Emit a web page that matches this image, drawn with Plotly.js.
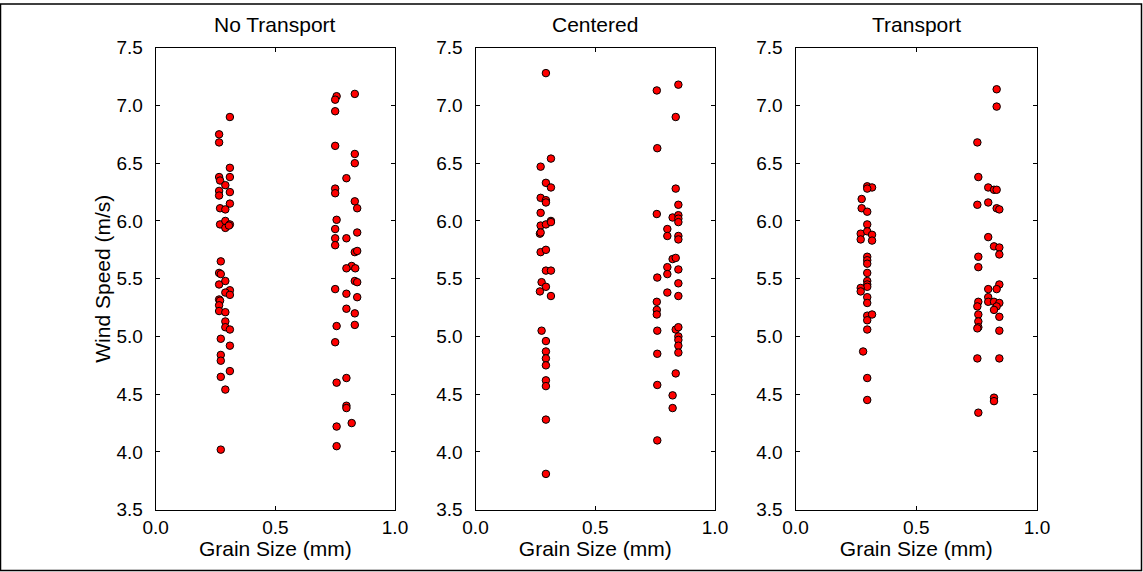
<!DOCTYPE html>
<html>
<head>
<meta charset="utf-8">
<script src="https://cdn.plot.ly/plotly-3.0.1.min.js"></script>
<style>
  html, body { margin: 0; padding: 0; background: #fff; }
  #chart { width: 1143px; height: 572px; }
</style>
</head>
<body>
<div id="chart"></div>
<script>
// ---- Data ----
const panelTitles = ["No Transport", "Centered", "Transport"];

const noTransportGrain = [
  0.310, 0.265, 0.265, 0.310, 0.265, 0.310, 0.269, 0.291, 0.265, 0.310, 0.265, 0.310, 0.269, 0.291,
  0.269, 0.291, 0.310, 0.291, 0.306, 0.272, 0.265, 0.272, 0.265, 0.291, 0.310, 0.291, 0.310, 0.265,
  0.269, 0.265, 0.265, 0.291, 0.291, 0.291, 0.310, 0.272, 0.310, 0.272, 0.272, 0.272, 0.310, 0.291, 0.272,
  0.832, 0.756, 0.750, 0.750, 0.750, 0.832, 0.832, 0.797, 0.750, 0.750, 0.832, 0.842, 0.756, 0.750,
  0.750, 0.797, 0.842, 0.750, 0.832, 0.842, 0.819, 0.797, 0.834, 0.832, 0.842, 0.750, 0.797, 0.842,
  0.797, 0.832, 0.756, 0.832, 0.750, 0.756, 0.797, 0.797, 0.797, 0.819, 0.756, 0.756
];
const noTransportWind = [
  6.90, 6.75, 6.68, 6.46, 6.38, 6.38, 6.35, 6.31, 6.26, 6.25, 6.22, 6.15, 6.11, 6.10,
  5.97, 6.00, 5.97, 5.94, 5.96, 5.65, 5.55, 5.54, 5.45, 5.48, 5.40, 5.38, 5.36, 5.32,
  5.31, 5.27, 5.22, 5.21, 5.13, 5.08, 5.06, 4.98, 4.92, 4.84, 4.79, 4.65, 4.70, 4.54, 4.02,
  7.10, 7.08, 7.05, 6.95, 6.65, 6.58, 6.50, 6.37, 6.28, 6.24, 6.17, 6.11, 6.01, 5.93,
  5.85, 5.85, 5.90, 5.79, 5.73, 5.74, 5.61, 5.59, 5.59, 5.48, 5.47, 5.41, 5.37, 5.34,
  5.24, 5.20, 5.09, 5.10, 4.95, 4.60, 4.64, 4.40, 4.38, 4.25, 4.22, 4.05
];

const centeredGrain = [
  0.294, 0.315, 0.272, 0.294, 0.315, 0.272, 0.294, 0.294, 0.272, 0.272, 0.294, 0.315, 0.315, 0.269,
  0.272, 0.272, 0.294, 0.294, 0.315, 0.276, 0.294, 0.269, 0.315, 0.276, 0.294, 0.294, 0.294, 0.294,
  0.294, 0.294, 0.294, 0.294,
  0.847, 0.757, 0.836, 0.759, 0.836, 0.847, 0.757, 0.823, 0.847, 0.847, 0.847, 0.801, 0.801, 0.847,
  0.847, 0.823, 0.836, 0.801, 0.801, 0.847, 0.759, 0.847, 0.801, 0.847, 0.757, 0.757, 0.757, 0.759,
  0.836, 0.847, 0.847, 0.847, 0.847, 0.847, 0.759, 0.836, 0.759, 0.823, 0.823, 0.759
];
const centeredWind = [
  7.28, 6.54, 6.47, 6.33, 6.29, 6.20, 6.18, 6.16, 6.07, 5.96, 5.97, 6.00, 5.99, 5.89,
  5.90, 5.73, 5.75, 5.57, 5.57, 5.47, 5.43, 5.39, 5.35, 5.05, 4.96, 4.87, 4.81, 4.75,
  4.62, 4.57, 4.28, 3.81,
  7.18, 7.13, 6.90, 6.63, 6.28, 6.14, 6.06, 6.03, 6.05, 6.02, 5.99, 5.93, 5.87, 5.87,
  5.84, 5.67, 5.68, 5.60, 5.54, 5.58, 5.51, 5.46, 5.38, 5.35, 5.30, 5.23, 5.19, 5.05,
  5.06, 5.08, 5.00, 4.97, 4.92, 4.86, 4.85, 4.68, 4.58, 4.49, 4.38, 4.10
];

const transportGrain = [
  0.297, 0.317, 0.297, 0.274, 0.274, 0.297, 0.297, 0.270, 0.297, 0.317, 0.270, 0.317, 0.297, 0.297,
  0.297, 0.297, 0.297, 0.297, 0.297, 0.270, 0.270, 0.297, 0.297, 0.297, 0.317, 0.297, 0.297, 0.280,
  0.297, 0.297,
  0.833, 0.833, 0.753, 0.757, 0.798, 0.822, 0.833, 0.753, 0.798, 0.833, 0.844, 0.798, 0.822, 0.844,
  0.844, 0.757, 0.757, 0.798, 0.844, 0.833, 0.798, 0.798, 0.822, 0.844, 0.833, 0.822, 0.757, 0.753,
  0.757, 0.757, 0.757, 0.753, 0.844, 0.844, 0.753, 0.844, 0.822, 0.822, 0.757
];
const transportWind = [
  6.30, 6.29, 6.28, 6.19, 6.11, 6.08, 5.97, 5.89, 5.91, 5.88, 5.84, 5.83, 5.69, 5.66,
  5.63, 5.55, 5.48, 5.45, 5.43, 5.42, 5.39, 5.34, 5.29, 5.18, 5.19, 5.14, 5.06, 4.87,
  4.64, 4.45,
  7.14, 6.99, 6.68, 6.38, 6.29, 6.27, 6.27, 6.14, 6.16, 6.11, 6.10, 5.86, 5.78, 5.77,
  5.71, 5.69, 5.60, 5.41, 5.45, 5.41, 5.34, 5.30, 5.30, 5.29, 5.26, 5.23, 5.30, 5.26,
  5.19, 5.13, 5.08, 5.07, 5.17, 5.05, 4.81, 4.81, 4.47, 4.44, 4.34
];

const xTickVals = [0.0, 0.5, 1.0];
const xTickText = ["0.0", "0.5", "1.0"];
const yTickVals = [3.5, 4.0, 4.5, 5.0, 5.5, 6.0, 6.5, 7.0, 7.5];
const yTickText = ["3.5", "4.0", "4.5", "5.0", "5.5", "6.0", "6.5", "7.0", "7.5"];
const xAxisLabel = "Grain Size (mm)";
const yAxisLabel = "Wind Speed (m/s)";

// ---- Build figure ----
const W = 1143, H = 572;
const FONT = "Liberation Sans, Arial, sans-serif";
const plotLeftPx = [155.7, 475.5, 795.5];
const plotRightPx = [395.0, 715.0, 1037.0];
const yTopPx = 47.7, yBotPx = 509.7;

const seriesX = [noTransportGrain, centeredGrain, transportGrain];
const seriesY = [noTransportWind, centeredWind, transportWind];

const marker = { color: "#ff0000", size: 7.5, line: { color: "#000000", width: 1 } };

const traces = seriesX.map((xs, i) => ({
  type: "scatter",
  mode: "markers",
  x: xs,
  y: seriesY[i],
  xaxis: i === 0 ? "x" : "x" + (i + 1),
  yaxis: i === 0 ? "y" : "y" + (i + 1),
  marker: marker,
  showlegend: false,
  hoverinfo: "x+y"
}));

const layout = {
  width: W, height: H,
  margin: { l: 0, r: 0, t: 0, b: 0 },
  paper_bgcolor: "#ffffff",
  plot_bgcolor: "#ffffff",
  font: { family: FONT, color: "#000000", size: 19 },
  showlegend: false,
  annotations: [],
  shapes: [{
    type: "rect", xref: "paper", yref: "paper",
    x0: 0.5 / W, x1: 1 - 1.5 / W, y0: 1.5 / H, y1: 1 - 4 / H,
    line: { color: "#000000", width: 1.5 }, fillcolor: "rgba(0,0,0,0)", layer: "below"
  }]
};

for (let i = 0; i < 3; i++) {
  const sx = i === 0 ? "" : String(i + 1);
  layout["xaxis" + sx] = {
    domain: [plotLeftPx[i] / W, plotRightPx[i] / W],
    range: [0, 1],
    anchor: "y" + sx,
    tickmode: "array", tickvals: xTickVals, ticktext: xTickText,
    ticks: "inside", ticklen: 4, tickcolor: "#000",
    showline: true, linecolor: "#000", linewidth: 1, mirror: "ticks",
    showgrid: false, zeroline: false,
    tickfont: { family: FONT, size: 19, color: "#000" },
    ticklabelstandoff: 0,
    title: { text: xAxisLabel, font: { family: FONT, size: 21, color: "#000" }, standoff: 3 },
    automargin: false,
    fixedrange: true
  };
  layout["yaxis" + sx] = {
    domain: [1 - yBotPx / H, 1 - yTopPx / H],
    range: [3.5, 7.5],
    anchor: "x" + sx,
    tickmode: "array", tickvals: yTickVals, ticktext: yTickText,
    ticks: "inside", ticklen: 4, tickcolor: "#000",
    showline: true, linecolor: "#000", linewidth: 1, mirror: "ticks",
    showgrid: false, zeroline: false,
    tickfont: { family: FONT, size: 19, color: "#000" },
    ticklabelstandoff: 8,
    title: i === 0 ? { text: yAxisLabel, font: { family: FONT, size: 21, color: "#000" }, standoff: 0 } : { text: "" },
    automargin: false,
    fixedrange: true
  };
  layout.annotations.push({
    text: panelTitles[i],
    xref: "paper", yref: "paper",
    x: (plotLeftPx[i] + plotRightPx[i]) / 2 / W,
    y: 1 - 24 / H,
    xanchor: "center", yanchor: "middle",
    showarrow: false,
    font: { family: FONT, size: 21, color: "#000" }
  });
}

Plotly.newPlot("chart", traces, layout, { displayModeBar: false, staticPlot: false });
</script>
</body>
</html>
